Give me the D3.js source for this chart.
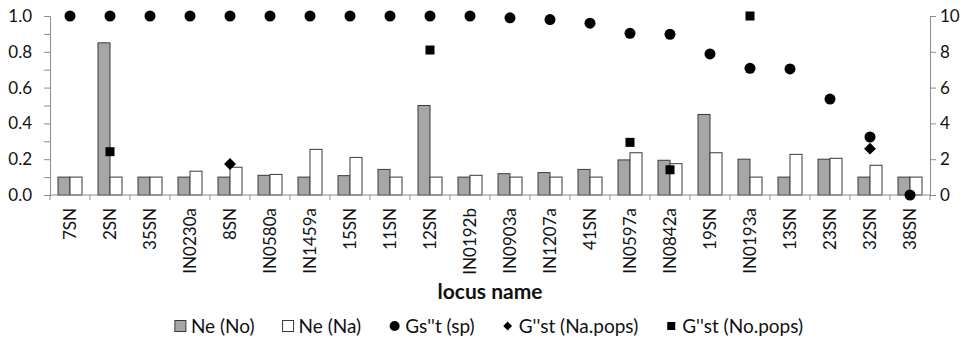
<!DOCTYPE html>
<html><head><meta charset="utf-8">
<script src="https://cdn.jsdelivr.net/npm/d3@7"></script>
<style>body{margin:0;background:#fff}svg{display:block}text{font-family:Lato,"Open Sans",sans-serif;fill:#111}</style>
</head><body><svg id="c" width="971" height="342"></svg>
<script>
const categories = ["7SN","2SN","35SN","IN0230a","8SN","IN0580a","IN1459a","15SN","11SN","12SN","IN0192b","IN0903a","IN1207a","41SN","IN0597a","IN0842a","19SN","IN0193a","13SN","23SN","32SN","38SN"];
const neNo = [1,8.5,1,1,1,1.1,1,1.08,1.43,5.0,1,1.19,1.25,1.43,1.96,1.94,4.5,2.0,1,2.0,1,1];
const neNa = [1,1,1,1.33,1.55,1.15,2.55,2.1,1,1,1.1,1,1,1,2.36,1.75,2.36,1,2.27,2.05,1.66,1];
const gst = [1,1,1,1,1,1,1,1,1,1,1,0.99,0.98,0.96,0.903,0.898,0.788,0.708,0.704,0.536,0.324,0];
const gNa = [null,null,null,null,0.173,null,null,null,null,null,null,null,null,null,null,null,null,null,null,null,0.259,null];
const gNo = [null,0.242,null,null,null,null,null,null,null,0.81,null,null,null,null,0.294,0.141,null,1.0,null,null,null,null];
const leftTicks = [0,0.2,0.4,0.6,0.8,1.0];
const rightTicks = [0,2,4,6,8,10];
const legendLabels = ["Ne (No)","Ne (Na)","Gs''t (sp)","G''st (Na.pops)","G''st (No.pops)"];

const svg = d3.select("#c");
const L = 50, R = 930, T = 16, B = 195;
const x = d3.scaleBand().domain(categories).range([L, R]).paddingInner(0).paddingOuter(0);
const yL = d3.scaleLinear().domain([0,1]).range([B, T]);
const yR = d3.scaleLinear().domain([0,10]).range([B, T]);
const bw = 12;
const axisCol = "#8c8c8c";

// left axis
const gl = svg.append("g").attr("transform", `translate(${L},0)`);
gl.call(d3.axisLeft(yL).tickValues(d3.range(0,11).map(d=>d/10)).tickSize(6).tickFormat(d => leftTicks.some(t=>Math.abs(t-d)<1e-9) ? d3.format(".1f")(d) : ""));
gl.select(".domain").attr("stroke", axisCol);
gl.selectAll(".tick line").attr("stroke", axisCol);
gl.selectAll(".tick text").attr("font-size", 17).attr("x", -18).style("font-family","Lato,sans-serif");

// right axis
const gr = svg.append("g").attr("transform", `translate(${R},0)`);
gr.call(d3.axisRight(yR).tickValues(rightTicks).tickSize(6));
gr.select(".domain").attr("stroke", axisCol);
gr.selectAll(".tick line").attr("stroke", axisCol);
gr.selectAll(".tick text").attr("font-size", 17).attr("x", 10).style("font-family","Lato,sans-serif");

// bars
svg.append("g").selectAll("rect").data(categories).join("rect")
  .attr("x", d => x(d) + x.bandwidth()/2 - bw).attr("width", bw)
  .attr("y", (d,i) => yR(neNo[i])).attr("height", (d,i) => B - yR(neNo[i]))
  .attr("fill", "#a6a6a6").attr("stroke", "#3a3a3a").attr("stroke-width", 1);
svg.append("g").selectAll("rect").data(categories).join("rect")
  .attr("x", d => x(d) + x.bandwidth()/2).attr("width", bw)
  .attr("y", (d,i) => yR(neNa[i])).attr("height", (d,i) => B - yR(neNa[i]))
  .attr("fill", "#fff").attr("stroke", "#3a3a3a").attr("stroke-width", 1);

// x axis
const gx = svg.append("g").attr("transform", `translate(0,${B})`);
gx.append("line").attr("x1", L).attr("x2", R).attr("stroke", axisCol);
gx.selectAll("line.t").data(d3.range(categories.length+1)).join("line").attr("class","t")
  .attr("x1", i => L + i*x.bandwidth()).attr("x2", i => L + i*x.bandwidth()).attr("y1",0).attr("y2",5).attr("stroke", axisCol);
gx.selectAll("text").data(categories).join("text")
  .attr("transform", d => `translate(${x(d)+x.bandwidth()/2+6},13) rotate(-90)`)
  .attr("text-anchor","end").attr("font-size", 17).text(d => d);

// markers
const cx = d => x(d) + x.bandwidth()/2;
svg.append("g").selectAll("circle").data(categories).join("circle")
  .attr("cx", cx).attr("cy", (d,i)=>yL(gst[i])).attr("r", 5.5).attr("fill","#000");
svg.append("g").selectAll("path").data(categories.filter((d,i)=>gNa[i]!=null)).join("path")
  .attr("d", d3.symbol(d3.symbolDiamond2, 90))
  .attr("transform", d => `translate(${cx(d)},${yL(gNa[categories.indexOf(d)])})`).attr("fill","#000");
svg.append("g").selectAll("rect").data(categories.filter((d,i)=>gNo[i]!=null)).join("rect")
  .attr("x", d => cx(d)-4.5).attr("y", d => yL(gNo[categories.indexOf(d)])-4.5)
  .attr("width", 9).attr("height", 9).attr("fill","#000");

// axis title
svg.append("text").attr("x", 490).attr("y", 299).attr("text-anchor","middle")
  .attr("font-size", 21).attr("font-weight","bold").text("locus name");

// legend (laid out from measured text widths, centred)
const lg = svg.append("g");
let cur = 0;
const gap = 28;
legendLabels.forEach((lab,i) => {
  const g = lg.append("g").attr("transform", `translate(${cur},0)`);
  if (i===0) g.append("rect").attr("x",0).attr("y",-5.5).attr("width",11).attr("height",11).attr("fill","#a6a6a6").attr("stroke","#3a3a3a");
  if (i===1) g.append("rect").attr("x",0).attr("y",-5.5).attr("width",11).attr("height",11).attr("fill","#fff").attr("stroke","#3a3a3a");
  if (i===2) g.append("circle").attr("cx",5.5).attr("cy",0).attr("r",5).attr("fill","#000");
  if (i===3) g.append("path").attr("d", d3.symbol(d3.symbolDiamond2, 50)).attr("transform","translate(5,0)").attr("fill","#000");
  if (i===4) g.append("rect").attr("x",1).attr("y",-4).attr("width",8).attr("height",8).attr("fill","#000");
  const t = g.append("text").attr("x",16).attr("y",6.5).attr("font-size",19).text(lab);
  cur += 16 + t.node().getComputedTextLength() + gap;
});
const total = cur - gap;
lg.attr("transform", `translate(${489 - total/2},326)`);
</script></body></html>
